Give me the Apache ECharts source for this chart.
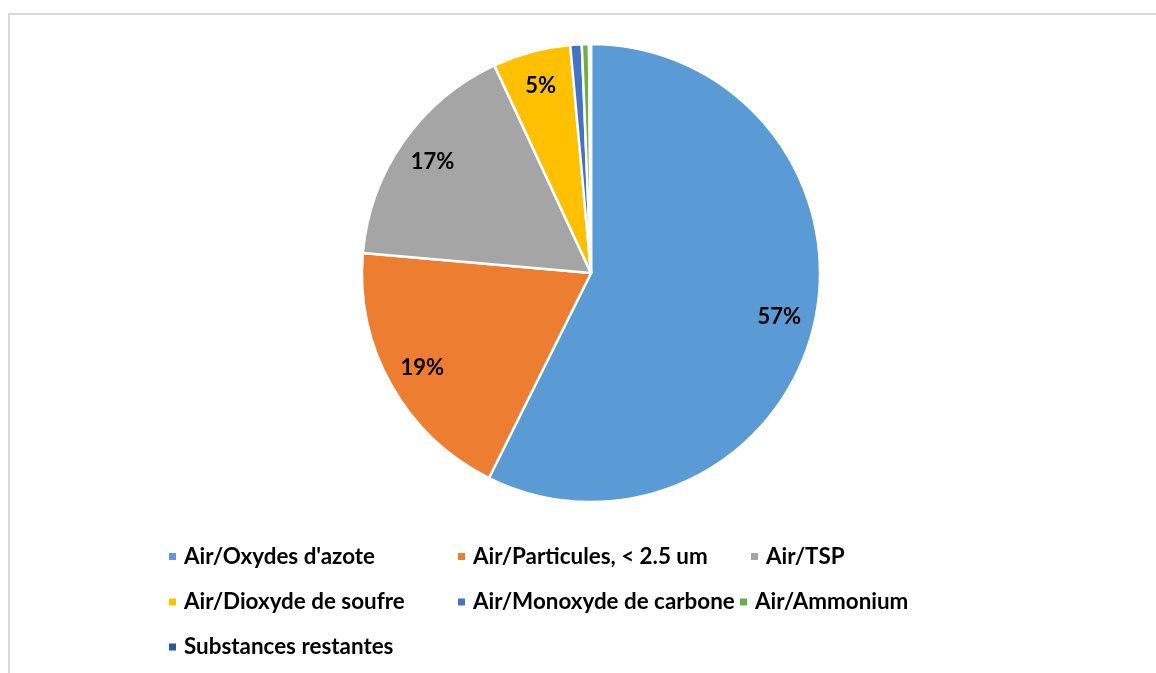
<!DOCTYPE html>
<html>
<head>
<meta charset="utf-8">
<script src="https://cdn.jsdelivr.net/npm/echarts@6/dist/echarts.min.js"></script>
<style>
html,body{margin:0;padding:0;background:#fff;}
#chart{width:1156px;height:673px;}
</style>
</head>
<body>
<div id="chart"></div>
<script>
const categories = ["Air/Oxydes d'azote", "Air/Particules, < 2.5 um", "Air/TSP", "Air/Dioxyde de soufre", "Air/Monoxyde de carbone", "Air/Ammonium", "Substances restantes"];
const values = [57.35, 19.04, 16.68, 5.48, 0.81, 0.50, 0.14];
const colors = ['#5B9BD5', '#ED7D31', '#A5A5A5', '#FFC000', '#4472C4', '#70AD47', '#255E91'];

// legend layout (icon left x, row center y)
const legendPos = [[167, 556.5], [456, 556.5], [749, 556.5], [167, 602], [456, 602], [738, 602], [167, 647]];

const FONT = 'Lato';
const data = categories.map((n, i) => ({ name: n, value: values[i], itemStyle: { color: colors[i] } }));
const labelData = categories.map((n, i) => ({ name: n, value: values[i] }));

const legends = categories.map((n, i) => ({
  data: [n],
  orient: 'horizontal',
  left: legendPos[i][0],
  top: legendPos[i][1] - 13,
  padding: 0,
  itemWidth: 9,
  itemHeight: 9,
  icon: 'rect',
  selectedMode: false,
  textStyle: { fontFamily: FONT, fontWeight: 'bold', fontSize: 22.4, color: '#000', lineHeight: 26, padding: [0, 0, 0, 2] }
}));

const chart = echarts.init(document.getElementById('chart'), null, { renderer: 'canvas' });
chart.setOption({
  animation: false,
  backgroundColor: '#fff',
  graphic: [{
    type: 'rect', silent: true, z: -10,
    shape: { x: 9, y: 14, width: 1160, height: 700 },
    style: { fill: 'none', stroke: '#d9d9d9', lineWidth: 2 }
  }],
  legend: legends,
  series: [{
    type: 'pie',
    center: [591, 273],
    radius: [0, 229],
    startAngle: 90,
    clockwise: true,
    avoidLabelOverlap: false,
    label: { show: false },
    labelLine: { show: false },
    itemStyle: { borderColor: '#fff', borderWidth: 2.5 },
    emphasis: { disabled: true },
    data: data
  }, {
    type: 'pie',
    center: [591, 273],
    radius: [152, 229],
    startAngle: 90,
    clockwise: true,
    silent: true,
    avoidLabelOverlap: false,
    legendHoverLink: false,
    itemStyle: { color: 'rgba(0,0,0,0)', borderWidth: 0 },
    labelLine: { show: false },
    emphasis: { disabled: true },
    label: {
      show: true,
      position: 'inside',
      fontFamily: FONT,
      fontWeight: 'bold',
      fontSize: 22,
      color: '#000',
      formatter: p => p.percent >= 1 ? Math.round(p.percent) + '%' : ''
    },
    data: labelData
  }]
});
</script>
</body>
</html>
